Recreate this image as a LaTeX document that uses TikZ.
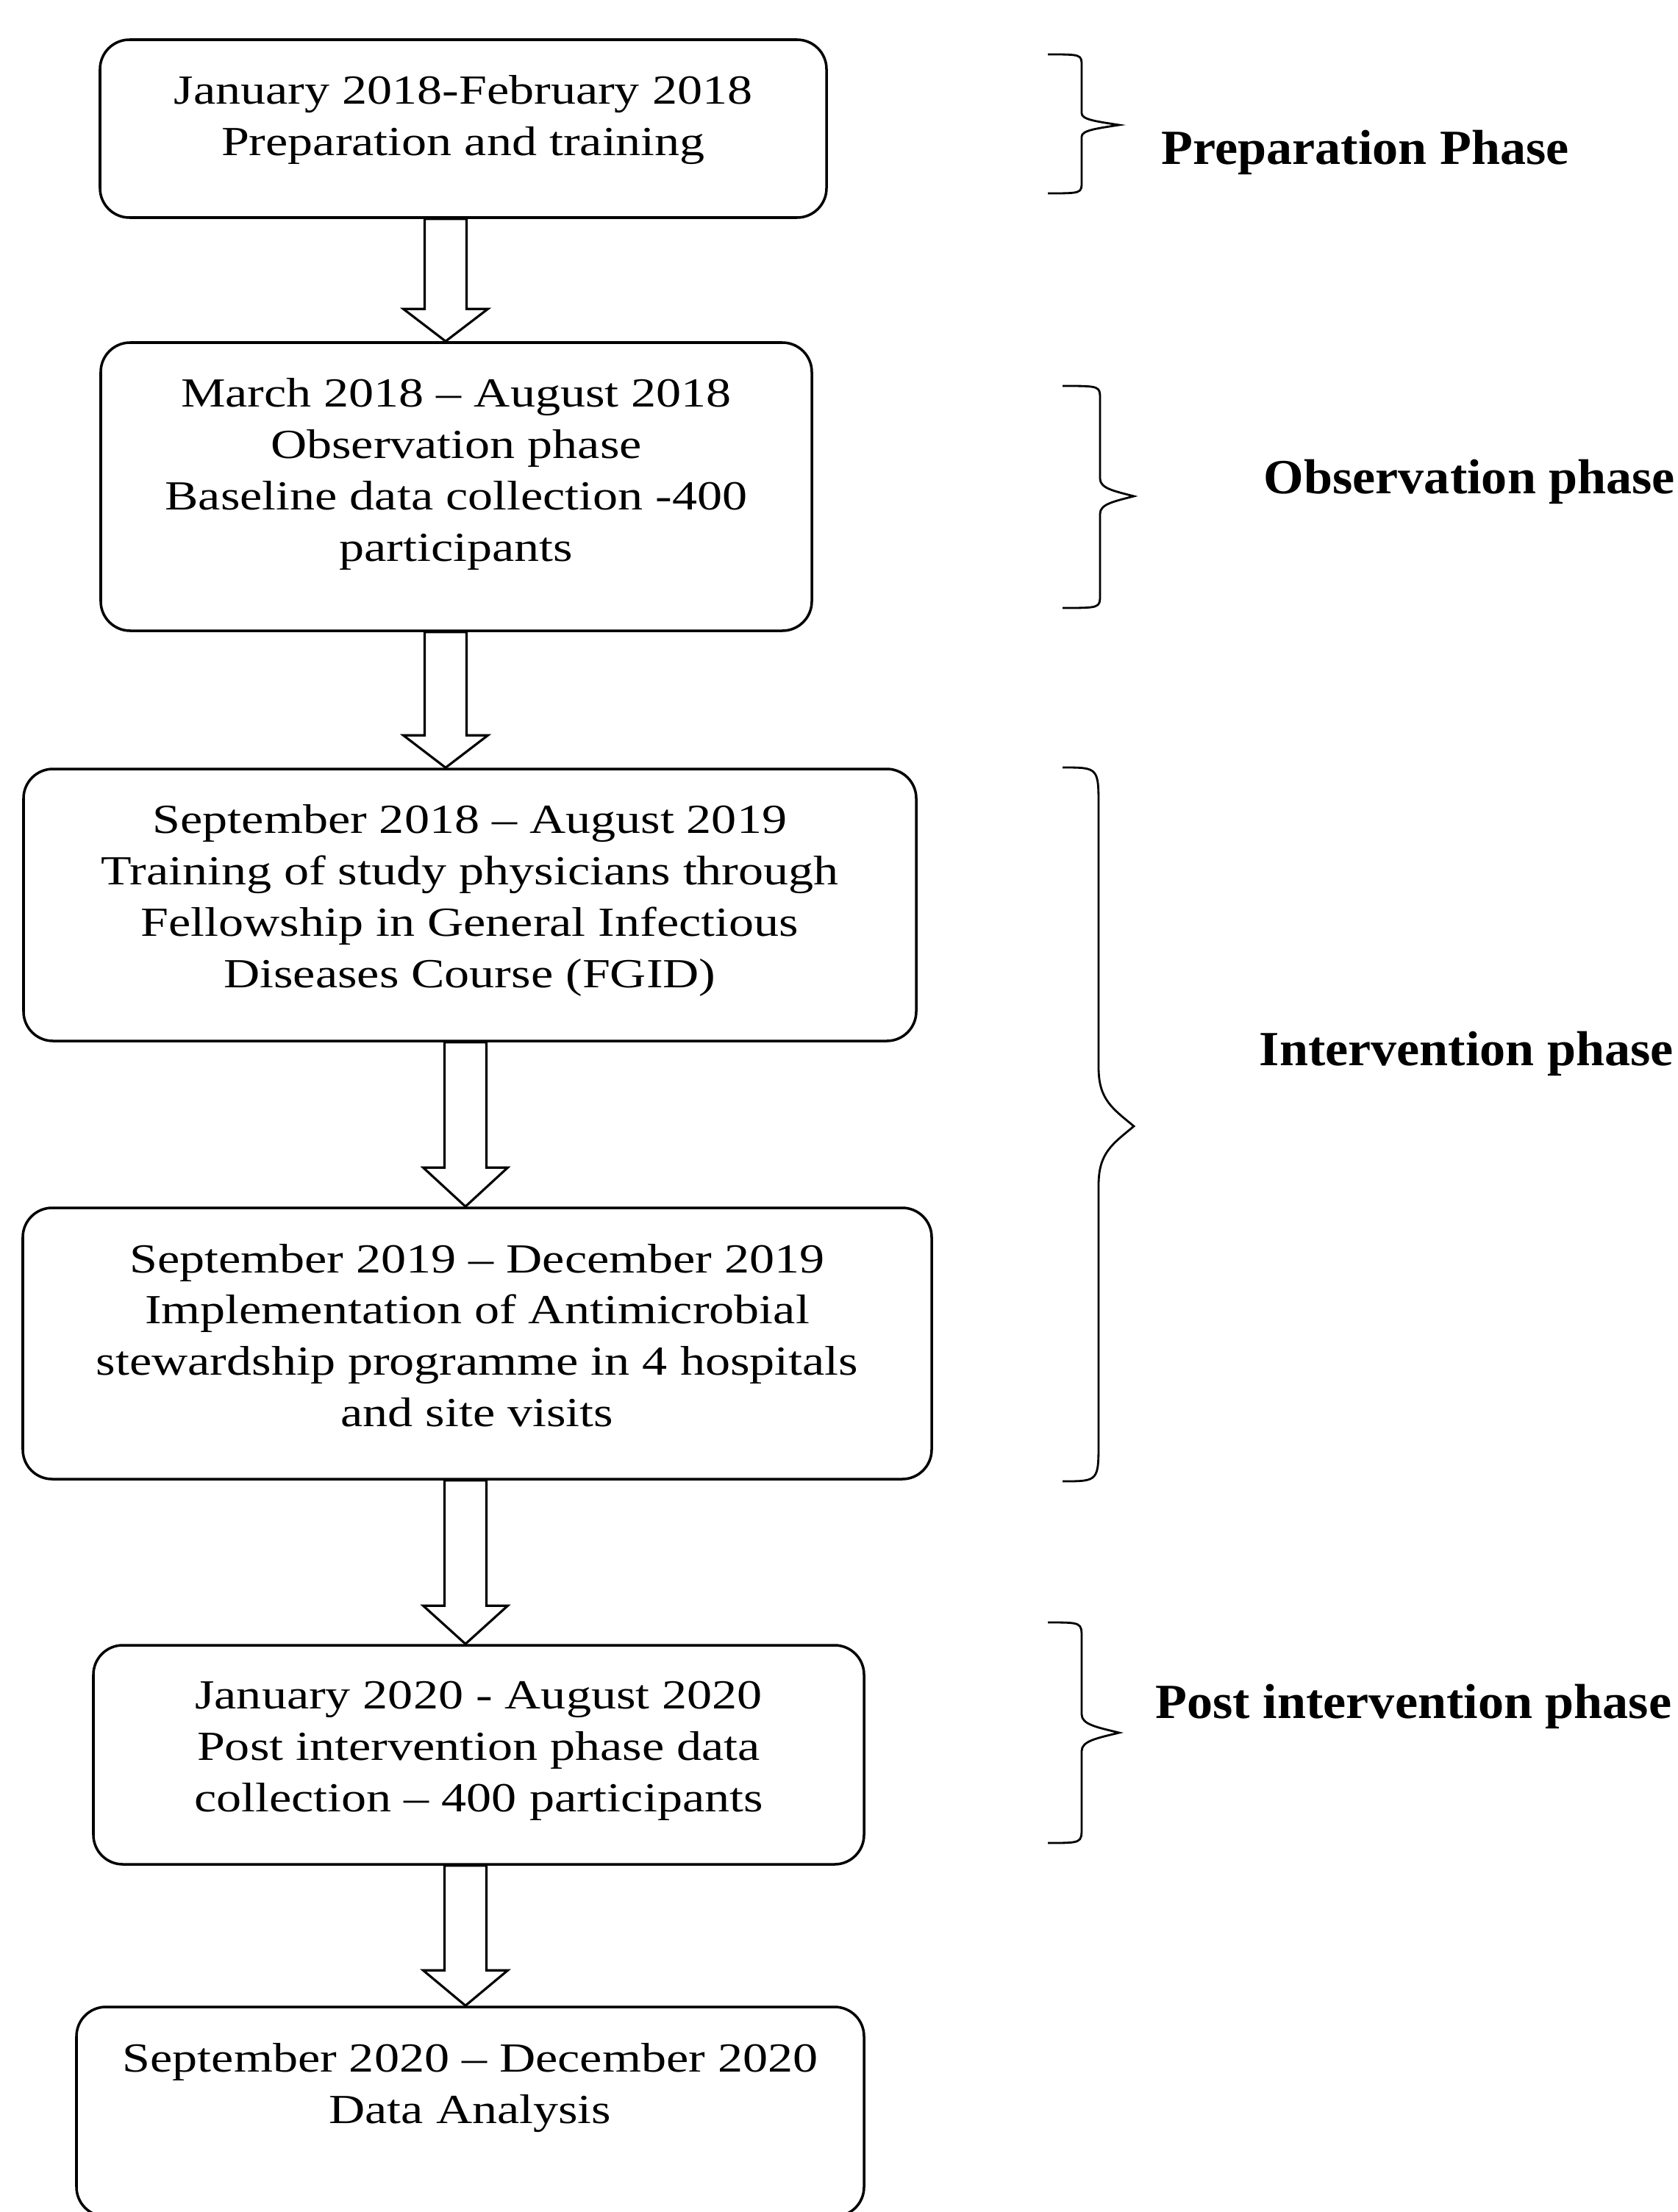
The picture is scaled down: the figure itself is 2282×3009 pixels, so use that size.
\documentclass[tikz,border=0pt]{standalone}
\usepackage{fontspec}
\setmainfont[FakeStretch=1.21]{Liberation Serif}
\newfontfamily\labfont[FakeStretch=1.05]{Liberation Serif}
\usetikzlibrary{calc,fit}
\tikzset{
  box/.style={draw=black, line width=1pt, rounded corners=0.4cm, inner sep=0pt, fill=white},
  txt/.style={inner sep=0pt, align=center, font=\fontsize{16}{19.9}\selectfont, anchor=north},
  lab/.style={inner sep=0pt, anchor=base west, font=\labfont\bfseries\fontsize{19}{22}\selectfont},
  blockarr/.style={draw=black, line width=0.9pt, fill=white, line join=miter},
  brace/.style={draw=black, line width=0.8pt},
}
\newcommand\blockarrow[4]{%
  \draw[blockarr] ($(#1.south -| #3)+(-28.5,0)$) -- ($(#2.north -| #3)+(-28.5,-#4)$)
    -- ($(#2.north -| #3)+(-57.5,-#4)$) -- (#2.north -| #3)
    -- ($(#2.north -| #3)+(57.5,-#4)$) -- ($(#2.north -| #3)+(28.5,-#4)$)
    -- ($(#1.south -| #3)+(28.5,0)$) -- cycle;}
\newcommand\phasebrace[8]{%
  \draw[brace] (#1,#4) .. controls (#2,#4) .. (#2,#4+#7) -- (#2,#6-#8)
    .. controls (#2,#6-0.45*#8) and (#2+0.4*#3-0.4*#2,#6-0.3*#8) .. (#3,#6)
    .. controls (#2+0.4*#3-0.4*#2,#6+0.3*#8) and (#2,#6+0.45*#8) .. (#2,#6+#8)
    -- (#2,#5-#7) .. controls (#2,#5) .. (#1,#5);}
\begin{document}
\begin{tikzpicture}[x=0.01cm,y=-0.01cm]
\useasboundingbox (0,0) rectangle (2282,3009);
\fill[white] (0,0) rectangle (2282,3009);

% boxes
\node[box, fit={(136,54) (1124,296)}] (b1) {};
\node[box, fit={(137,466) (1104,858)}] (b2) {};
\node[box, fit={(32,1046) (1246,1416)}] (b3) {};
\node[box, fit={(31,1643) (1267,2012)}] (b4) {};
\node[box, fit={(127,2238) (1175,2536)}] (b5) {};
\node[box, fit={(104,2730) (1175,3015)}] (b6) {};

% texts
\node[txt] (t1) at ($(b1.north)+(0,50)$) {January 2018-February 2018\\Preparation and training};
\node[txt] (t2) at ($(b2.north)+(0,50)$) {March 2018 – August 2018\\Observation phase\\Baseline data collection -400\\participants};
\node[txt] (t3) at ($(b3.north)+(0,50)$) {September 2018 – August 2019\\Training of study physicians through\\Fellowship in General Infectious\\Diseases Course (FGID)};
\node[txt] (t4) at ($(b4.north)+(0,50)$) {September 2019 – December 2019\\Implementation of Antimicrobial\\stewardship programme in 4 hospitals\\and site visits};
\node[txt] (t5) at ($(b5.north)+(0,50)$) {January 2020 - August 2020\\Post intervention phase data\\collection – 400 participants};
\node[txt] (t6) at ($(b6.north)+(0,50)$) {September 2020 – December 2020\\Data Analysis};

% arrows
\coordinate (ax1) at (606,0);
\coordinate (ax2) at (633,0);
\blockarrow{b1}{b2}{ax1}{44}
\blockarrow{b2}{b3}{ax1}{44}
\blockarrow{b3}{b4}{ax2}{53}
\blockarrow{b4}{b5}{ax2}{52}
\blockarrow{b5}{b6}{ax2}{48}

% braces
\phasebrace{1425}{1471}{1522}{74}{263}{170}{16}{16}
\phasebrace{1445}{1496}{1542}{525}{827}{675}{18}{24}
\phasebrace{1445}{1494}{1542}{1044}{2015}{1532}{55}{80}
\phasebrace{1425}{1471}{1522}{2207}{2507}{2357}{21}{25}

% phase labels
\node[lab] (l1) at (1579,224) {Preparation Phase};
\node[lab] (l2) at (1718,671) {Observation phase};
\node[lab] (l3) at (1712,1449) {Intervention phase};
\node[lab] (l4) at (1571,2337) {Post intervention phase};
\end{tikzpicture}
\end{document}
